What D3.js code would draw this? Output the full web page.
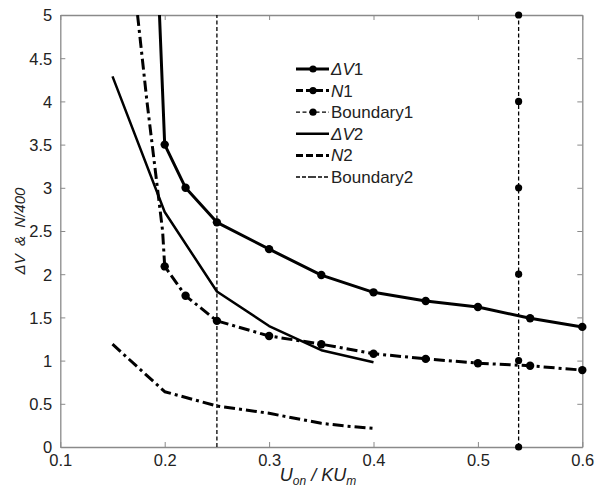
<!DOCTYPE html>
<html>
<head>
<meta charset="utf-8">
<script src="https://cdn.jsdelivr.net/npm/d3@7"></script>
<style>
  body { margin: 0; background: #fff; }
  svg text { font-family: "Liberation Sans", Arial, sans-serif; }
</style>
</head>
<body>
<svg id="chart" width="595" height="489"></svg>
<script>
// ---- data ----
const dV1_x = [0.195, 0.20, 0.22, 0.25, 0.30, 0.35, 0.40, 0.45, 0.50, 0.55, 0.60];
const dV1_y = [5.0, 3.5, 3.0, 2.6, 2.29, 1.99, 1.79, 1.69, 1.62, 1.49, 1.39];
const dV1_marked = [false, true, true, true, true, true, true, true, true, true, true];

const N1_x = [0.174, 0.183, 0.193, 0.198, 0.20, 0.22, 0.25, 0.30, 0.35, 0.40, 0.45, 0.50, 0.55, 0.60];
const N1_y = [5.0, 4.0, 3.0, 2.5, 2.09, 1.75, 1.46, 1.285, 1.19, 1.08, 1.02, 0.97, 0.94, 0.89];
const N1_marked = [false, false, false, false, true, true, true, true, true, true, true, true, true, true];

const bound1_x = 0.539;
const bound1_y = [0, 1, 2, 3, 4, 5];

const dV2_x = [0.15, 0.20, 0.25, 0.30, 0.35, 0.40];
const dV2_y = [4.29, 2.72, 1.80, 1.40, 1.12, 0.98];

const N2_x = [0.15, 0.20, 0.25, 0.30, 0.35, 0.375, 0.40];
const N2_y = [1.19, 0.64, 0.475, 0.39, 0.274, 0.24, 0.216];

const bound2_x = 0.25;
const bound2_y = [0, 5];

const xTicks = [0.1, 0.2, 0.3, 0.4, 0.5, 0.6];
const yTicks = [0, 0.5, 1, 1.5, 2, 2.5, 3, 3.5, 4, 4.5, 5];

const legendLabels = [
  {main: "ΔV", idx: "1"},
  {main: "N", idx: "1"},
  {plain: "Boundary1"},
  {main: "ΔV", idx: "2"},
  {main: "N", idx: "2"},
  {plain: "Boundary2"}
];

// ---- layout ----
const svg = d3.select("#chart");
const L = 60.3, R = 582.3, T = 15, B = 447;
const x = d3.scaleLinear().domain([0.1, 0.6]).range([L, R]);
const y = d3.scaleLinear().domain([0, 5]).range([B, T]);
const axisColor = "#8a8a8a";
const textColor = "#222";

// styles
const sty = {
  dV1: {w: 3, dash: null},
  N1: {w: 3, dash: "11,4,3,4"},
  b1: {w: 1.3, dash: "4,2.5"},
  dV2: {w: 2.5, dash: null},
  N2: {w: 3, dash: "11,4,3,4"},
  b2: {w: 1.3, dash: "4,2.5"}
};

svg.append("defs").append("clipPath").attr("id", "clip")
  .append("rect").attr("x", L).attr("y", T).attr("width", R - L).attr("height", B - T);

// axes box with inward ticks
const tickLen = 5;
const gAx = svg.append("g");
const axB = d3.axisBottom(x).tickValues(xTicks).tickSizeInner(-tickLen).tickSizeOuter(0).tickFormat(d3.format("~g"));
const axT = d3.axisTop(x).tickValues(xTicks).tickSizeInner(-tickLen).tickSizeOuter(0).tickFormat("");
const axL = d3.axisLeft(y).tickValues(yTicks).tickSizeInner(-tickLen).tickSizeOuter(0).tickFormat(d3.format("~g"));
const axR = d3.axisRight(y).tickValues(yTicks).tickSizeInner(-tickLen).tickSizeOuter(0).tickFormat("");

function styleAxis(g) {
  g.select(".domain").attr("stroke", axisColor).attr("stroke-width", 1.3);
  g.selectAll(".tick line").attr("stroke", axisColor).attr("stroke-width", 1);
  g.selectAll(".tick text").attr("fill", textColor).style("font-size", "16.5px")
    .style("font-family", '"Liberation Sans", Arial, sans-serif');
}
const gB = gAx.append("g").attr("transform", `translate(0,${B})`).call(axB).call(styleAxis);
gB.selectAll(".tick text").attr("dy", null).attr("y", 19);
const gT = gAx.append("g").attr("transform", `translate(0,${T})`).call(axT).call(styleAxis);
const gL = gAx.append("g").attr("transform", `translate(${L},0)`).call(axL).call(styleAxis);
gL.selectAll(".tick text").attr("x", -8).attr("dy", "0.36em");
const gR = gAx.append("g").attr("transform", `translate(${R},0)`).call(axR).call(styleAxis);

// series
const plot = svg.append("g").attr("clip-path", "url(#clip)");
const line = d3.line().x(d => x(d[0])).y(d => y(d[1]));

function drawLine(xs, ys, s) {
  const pts = xs.map((v, i) => [v, ys[i]]);
  plot.append("path").datum(pts).attr("d", line)
    .attr("fill", "none").attr("stroke", "#000").attr("stroke-width", s.w)
    .attr("stroke-dasharray", s.dash).attr("stroke-linejoin", "round");
}
function drawDots(xs, ys, marks, r) {
  const pts = xs.map((v, i) => [v, ys[i], marks ? marks[i] : true]).filter(d => d[2]);
  svg.append("g").selectAll("circle").data(pts).join("circle")
    .attr("cx", d => x(d[0])).attr("cy", d => y(d[1])).attr("r", r).attr("fill", "#000");
}

drawLine(bound2_y.map(() => bound2_x), bound2_y, sty.b2);
drawLine(bound1_y.map(() => bound1_x), bound1_y, sty.b1);
drawLine(dV2_x, dV2_y, sty.dV2);
drawLine(N2_x, N2_y, sty.N2);
drawLine(N1_x, N1_y, sty.N1);
drawLine(dV1_x, dV1_y, sty.dV1);
drawDots(dV1_x, dV1_y, dV1_marked, 4.2);
drawDots(N1_x, N1_y, N1_marked, 4.2);
drawDots(bound1_y.map(() => bound1_x), bound1_y, null, 3.6);

// legend
const legStyles = [sty.dV1, sty.N1, sty.b1, sty.dV2, sty.N2, sty.b2];
const legDots = [true, true, true, false, false, false];
const lg = svg.append("g");
legendLabels.forEach((lab, i) => {
  const yy = 69 + i * 21.6;
  const s = legStyles[i];
  lg.append("line").attr("x1", 296).attr("x2", 329).attr("y1", yy).attr("y2", yy)
    .attr("stroke", "#000").attr("stroke-width", s.w)
    .attr("stroke-dasharray", i === 1 || i === 4 ? "7,3,7,3" : (i === 5 ? "4,2,4,2,8,2" : s.dash));
  if (legDots[i]) lg.append("circle").attr("cx", 313).attr("cy", yy).attr("r", 3.6).attr("fill", "#000");
  const t = lg.append("text").attr("x", 331).attr("y", yy + 6).attr("fill", textColor).style("font-size", "17px");
  if (lab.plain) t.text(lab.plain);
  else {
    t.append("tspan").style("font-style", "italic").text(lab.main);
    t.append("tspan").text(lab.idx);
  }
});

// axis labels
const xl = svg.append("text").attr("x", 318).attr("y", 481).attr("text-anchor", "middle")
  .attr("fill", textColor).style("font-size", "18px").style("font-style", "italic");
xl.append("tspan").text("U");
xl.append("tspan").attr("dy", 4).style("font-size", "12px").text("on");
xl.append("tspan").attr("dy", -4).text(" / KU");
xl.append("tspan").attr("dy", 4).style("font-size", "12px").text("m");

svg.append("text").attr("transform", `translate(25,${(T + B) / 2}) rotate(-90)`)
  .attr("text-anchor", "middle").attr("fill", textColor)
  .style("font-size", "15px").style("font-style", "italic")
  .attr("xml:space", "preserve")
  .text("ΔV  &  N/400");
</script>
</body>
</html>
